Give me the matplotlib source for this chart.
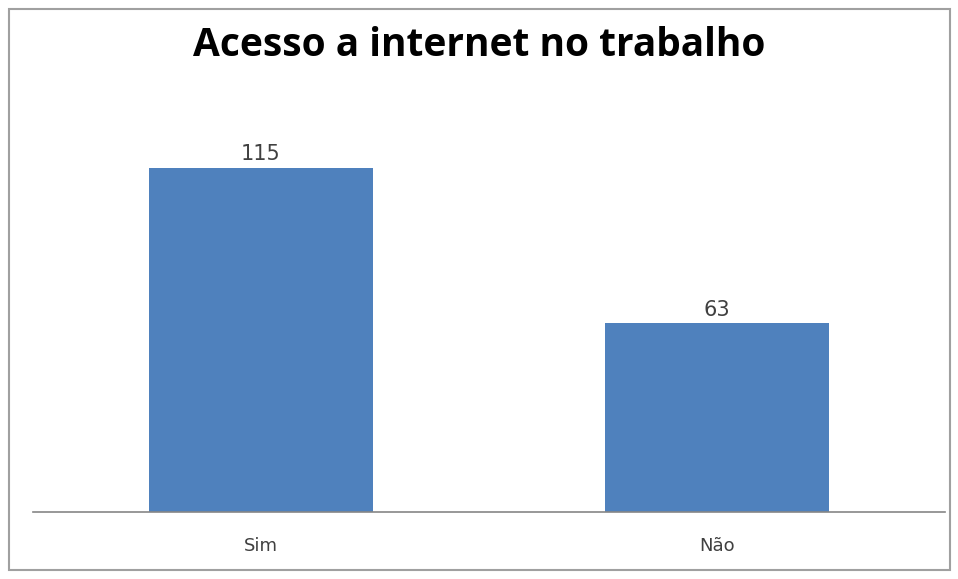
import matplotlib.pyplot as plt
from matplotlib.patches import Rectangle

categorias = ['Sim', 'Não']
valores = [115, 63]

fig = plt.figure(figsize=(9.58, 5.79), dpi=100)
ax = fig.add_axes([33/958, 67/579, 912/958, 419/579])

x = range(len(categorias))
bars = ax.bar(x, valores, width=0.49, color='#4F81BD')
for b, v in zip(bars, valores):
    ax.text(b.get_x() + b.get_width()/2, v + 1.2, str(v), ha='center', va='bottom',
            fontsize=15, color='#404040', family='DejaVu Sans')

ax.set_xlim(-0.5, 1.5)
ax.set_ylim(0, 140)
ax.set_xticks(list(x))
ax.set_xticklabels(categorias, fontsize=13, color='#404040', family='DejaVu Sans')
ax.tick_params(axis='x', length=0, pad=18)
ax.set_yticks([])
for s in ['top', 'right', 'left']:
    ax.spines[s].set_visible(False)
ax.spines['bottom'].set_color('#868686')
ax.spines['bottom'].set_linewidth(1.2)

fig.text(0.5, 1 - 46/579, 'Acesso a internet no trabalho', ha='center', va='center',
         fontsize=28, fontweight='bold', family='Open Sans', color='black')

fig.patches.append(Rectangle((9/958, 9/579), 941/958, 561/579, transform=fig.transFigure,
                             fill=False, edgecolor='#A0A0A0', linewidth=1.5))

fig.savefig('out.png', dpi=100)
